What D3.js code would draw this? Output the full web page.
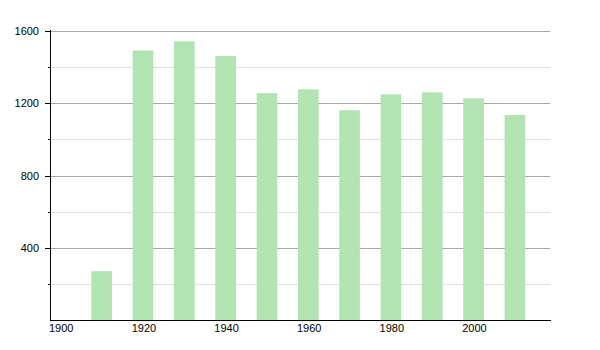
<!DOCTYPE html>
<html><head><meta charset="utf-8">
<script src="https://cdn.jsdelivr.net/npm/d3@7"></script>
<style>body{margin:0;background:#fff}text{font-family:"Liberation Sans",Arial,sans-serif;font-size:11px;fill:#000}</style>
</head><body><svg id="c" width="600" height="350"></svg>
<script>
const years = [1910,1920,1930,1940,1950,1960,1970,1980,1990,2000,2010];
const population = [272,1490,1540,1459,1254,1275,1160,1248,1259,1226,1134];
const yMajorTicks = [400,800,1200,1600];
const yMinorTicks = [200,600,1000,1400];
const xTickLabels = [1900,1920,1940,1960,1980,2000];

const svg = d3.select("#c");
const x = d3.scaleLinear().domain([1900,2021]).range([50,550]);
const y = d3.scaleLinear().domain([0,1600]).range([320.5,30.5]);

// minor gridlines
svg.append("g").selectAll("line").data(yMinorTicks).join("line")
  .attr("x1",50).attr("x2",550).attr("y1",d=>Math.round(y(d))+0.5).attr("y2",d=>Math.round(y(d))+0.5)
  .attr("stroke","#e2e2e2").attr("stroke-width",1);
// major gridlines
svg.append("g").selectAll("line").data(yMajorTicks).join("line")
  .attr("x1",50).attr("x2",550).attr("y1",d=>Math.round(y(d))+0.5).attr("y2",d=>Math.round(y(d))+0.5)
  .attr("stroke","#a8a8a8").attr("stroke-width",1);

// bars
const bw = x(1905)-x(1900);
svg.append("g").selectAll("rect").data(years).join("rect")
  .attr("x",(d)=>x(d)).attr("width",bw)
  .attr("y",(d,i)=>y(population[i])).attr("height",(d,i)=>y(0)-y(population[i]))
  .attr("fill","#b1e4b1");

// y axis
svg.append("line").attr("x1",50.5).attr("x2",50.5).attr("y1",30).attr("y2",321).attr("stroke","#000");
svg.append("g").selectAll("line").data(yMajorTicks).join("line")
  .attr("x1",45).attr("x2",50).attr("y1",d=>Math.round(y(d))+0.5).attr("y2",d=>Math.round(y(d))+0.5).attr("stroke","#000");
svg.append("g").selectAll("line").data(yMinorTicks).join("line")
  .attr("x1",48).attr("x2",50).attr("y1",d=>Math.round(y(d))+0.5).attr("y2",d=>Math.round(y(d))+0.5).attr("stroke","#000");
svg.append("g").selectAll("text").data(yMajorTicks).join("text")
  .attr("x",39).attr("y",d=>y(d)+4).attr("text-anchor","end").text(d=>d);

// x axis
svg.append("line").attr("x1",50).attr("x2",551).attr("y1",320.5).attr("y2",320.5).attr("stroke","#000");
svg.append("g").selectAll("text").data(xTickLabels).join("text")
  .attr("x",d=>x(d)-1).attr("y",332).attr("text-anchor","start").text(d=>d);
</script></body></html>
